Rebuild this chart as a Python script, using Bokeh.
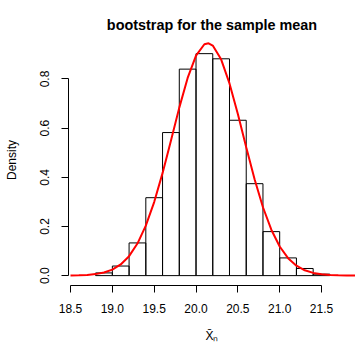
from bokeh.plotting import figure
from bokeh.models import FixedTicker, Range1d
from bokeh.embed import file_html
from bokeh.resources import INLINE

# ---- data ----
bin_left = [18.8, 19.0, 19.2, 19.4, 19.6, 19.8, 20.0, 20.2, 20.4, 20.6, 20.8, 21.0, 21.2, 21.4]
bin_right = [19.0, 19.2, 19.4, 19.6, 19.8, 20.0, 20.2, 20.4, 20.6, 20.8, 21.0, 21.2, 21.4, 21.6]
bin_density = [0.011, 0.039, 0.133, 0.317, 0.582, 0.840, 0.903, 0.882, 0.632, 0.374, 0.179,
               0.072, 0.029, 0.006]

curve_x = [18.5, 18.6, 18.7, 18.8, 18.9, 19.0, 19.1, 19.2, 19.3, 19.4, 19.5, 19.6, 19.7,
           19.8, 19.9, 20.0, 20.1, 20.15, 20.2, 20.3, 20.4, 20.5, 20.6, 20.7, 20.8, 20.9,
           21.0, 21.1, 21.2, 21.3, 21.4, 21.5, 21.6, 21.7, 21.8, 21.9]
curve_y = [0.0005, 0.0012, 0.0028, 0.0061, 0.0126, 0.0246, 0.0454, 0.0791, 0.1304, 0.2032,
           0.2993, 0.4169, 0.5489, 0.6834, 0.8043, 0.8948, 0.9412, 0.9451, 0.9359, 0.8798,
           0.7819, 0.6571, 0.5219, 0.3919, 0.2782, 0.1868, 0.1185, 0.0711, 0.0403, 0.0216,
           0.0110, 0.0053, 0.0024, 0.0010, 0.0004, 0.0002]

x_ticks = [18.5, 19.0, 19.5, 20.0, 20.5, 21.0, 21.5]
x_tick_labels = ["18.5", "19.0", "19.5", "20.0", "20.5", "21.0", "21.5"]
y_ticks = [0.0, 0.2, 0.4, 0.6, 0.8]
y_tick_labels = ["0.0", "0.2", "0.4", "0.6", "0.8"]

title_text = "bootstrap for the sample mean"
x_label = "X\u0304\u2099"
y_label = "Density"

FONT = "Liberation Sans"

p = figure(width=355, height=345, output_backend="svg", toolbar_location=None,
           title=title_text,
           x_range=Range1d(18.476, 21.906), y_range=Range1d(-0.0402, 0.9809),
           min_border_left=68, min_border_right=0, min_border_top=34, min_border_bottom=57)
p.title.align = "center"
p.title.vertical_align = "top"
p.title.text_font = FONT
p.title.text_font_size = "14.4px"
p.title.text_font_style = "bold"
p.title.text_color = "black"
p.title.standoff = 0
p.outline_line_color = None
p.background_fill_color = "white"
p.border_fill_color = "white"
p.xgrid.visible = False
p.ygrid.visible = False

p.quad(left=bin_left, right=bin_right, bottom=0, top=bin_density,
       fill_color=None, line_color="black", line_width=1)
p.line(curve_x, curve_y, line_color="red", line_width=2)

for ax, ticks, labels in ((p.xaxis, x_ticks, x_tick_labels), (p.yaxis, y_ticks, y_tick_labels)):
    ax.ticker = FixedTicker(ticks=ticks, minor_ticks=[])
    ax.major_label_overrides = {t: l for t, l in zip(ticks, labels)}
    ax.axis_line_color = "black"
    ax.major_tick_line_color = "black"
    ax.minor_tick_line_color = None
    ax.major_tick_in = 0
    ax.major_tick_out = 7
    ax.major_label_text_font = FONT
    ax.major_label_text_font_size = "12px"
    ax.major_label_text_color = "black"
    ax.axis_label_text_font = FONT
    ax.axis_label_text_font_size = "12px"
    ax.axis_label_text_font_style = "normal"
    ax.axis_label_text_color = "black"

p.xaxis.bounds = (18.5, 21.5)
p.yaxis.bounds = (0.0, 0.8)
p.yaxis.major_label_orientation = "vertical"
p.xaxis.axis_label = x_label
p.yaxis.axis_label = y_label
p.xaxis.major_label_standoff = 11
p.xaxis.axis_label_standoff = 13
p.yaxis.major_label_standoff = 12
p.yaxis.axis_label_standoff = 19

open("out.html", "w").write(file_html(p, INLINE))
